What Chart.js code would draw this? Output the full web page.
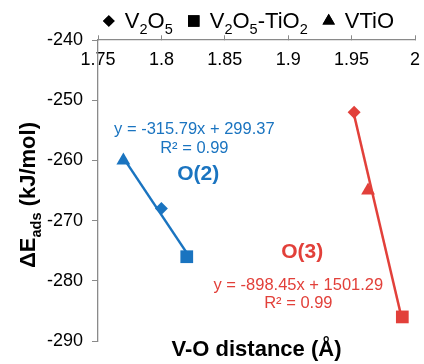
<!DOCTYPE html>
<html>
<head>
<meta charset="utf-8">
<script src="https://cdn.jsdelivr.net/npm/chart.js@4.4.1/dist/chart.umd.min.js"></script>
<style>
  html, body { margin: 0; padding: 0; background: #fff; }
  #wrap { width: 424px; height: 364px; }
</style>
</head>
<body>
<div id="wrap"><canvas id="voChart"></canvas></div>
<script>
// catalysts, in legend order, each with its own marker
const materials = [
  [['V', 0], ['2', 1], ['O', 0], ['5', 1]],
  [['V', 0], ['2', 1], ['O', 0], ['5', 1], ['-TiO', 0], ['2', 1]],
  [['VTiO', 0]]
];
const markerStyles = ['rectRot', 'rect', 'triangle'];
const markerSizes = [6.5, 9, 8];

// O(2) site: V-O distance (Å) and adsorption energy (kJ/mol), same order as materials
const o2Distance = [1.80, 1.82, 1.77];
const o2Energy = [-268, -276, -260];
// O(3) site
const o3Distance = [1.952, 1.99, 1.963];
const o3Energy = [-252, -286, -265];

// linear fits: [slope, intercept]
const o2Fit = [-315.79, 299.37];
const o3Fit = [-898.45, 1501.29];
const o2R2 = '0.99';
const o3R2 = '0.99';

const xTicks = [1.75, 1.8, 1.85, 1.9, 1.95, 2];
const yTicks = [-240, -250, -260, -270, -280, -290];

const BLUE = '#1a74c0';
const RED = '#e2403a';
const AXIS = '#8a8a8a';
const FONT = "'Liberation Sans', Arial, sans-serif";

function points(xs, ys) {
  return xs.map((x, i) => ({ x: x, y: ys[i] }));
}

// end points of a fit line over the range of its data
function fitLine(xs, fit) {
  const lo = Math.min(...xs), hi = Math.max(...xs);
  return [lo, hi].map(x => ({ x: x, y: fit[0] * x + fit[1] }));
}

function fitLabel(fit) {
  const sign = fit[1] < 0 ? '-' : '+';
  return 'y = ' + fit[0].toFixed(2) + 'x ' + sign + ' ' + Math.abs(fit[1]).toFixed(2);
}

// text runs with subscripts: parts = [[text, isSub], ...]
function richWidth(ctx, parts, size, weight) {
  let w = 0;
  parts.forEach(p => {
    ctx.font = weight + ' ' + (p[1] ? size * 0.66 : size) + 'px ' + FONT;
    w += ctx.measureText(p[0]).width;
  });
  return w;
}

function drawRich(ctx, parts, x, y, size, weight) {
  let cx = x;
  ctx.textAlign = 'left';
  ctx.textBaseline = 'alphabetic';
  parts.forEach(p => {
    ctx.font = weight + ' ' + (p[1] ? size * 0.66 : size) + 'px ' + FONT;
    ctx.fillText(p[0], cx, p[1] ? y + size * 0.26 : y);
    cx += ctx.measureText(p[0]).width;
  });
  return cx;
}

// no label overhang padding for the axes; the plot box is set by layout padding
function noPad(s) {
  s.paddingLeft = 0;
  s.paddingRight = 0;
  s.paddingTop = 0;
  s.paddingBottom = 0;
}

const extras = {
  id: 'extras',
  afterDraw(chart) {
    const ctx = chart.ctx;
    const area = chart.chartArea;
    const xs = chart.scales.x, ys = chart.scales.y;
    ctx.save();

    // legend across the top, right-aligned with the plot
    const legSize = 22, legGap = 16, itemGap = 14;
    let total = 0;
    const widths = materials.map(m => richWidth(ctx, m, legSize, 'normal'));
    widths.forEach((w, i) => { total += 7 + legGap + w + (i ? itemGap + 7 : 0); });
    let lx = area.right - total;
    materials.forEach((m, i) => {
      ctx.fillStyle = '#000';
      Chart.helpers.drawPoint(ctx, {
        pointStyle: markerStyles[i], radius: markerSizes[i] * 0.9, rotation: 0, borderWidth: 0
      }, lx, 21);
      ctx.fill();
      ctx.fillStyle = '#000';
      lx = drawRich(ctx, m, lx + legGap, 28, legSize, 'normal') + itemGap + 7;
    });

    // y axis title, rotated
    const yt = [['ΔE', 0], ['ads', 1], [' (kJ/mol)', 0]];
    const ytSize = 22;
    const ytw = richWidth(ctx, yt, ytSize, 'bold');
    ctx.translate(35, 195);
    ctx.rotate(-Math.PI / 2);
    ctx.fillStyle = '#000';
    drawRich(ctx, yt, -ytw / 2, 0, ytSize, 'bold');
    ctx.setTransform(1, 0, 0, 1, 0, 0);

    // fit equations and site labels
    const notes = [
      [fitLabel(o2Fit), 1.826, -254.8, BLUE, 'normal', 16.5],
      ['R² = ' + o2R2, 1.826, -258.0, BLUE, 'normal', 16.5],
      ['O(2)', 1.829, -262.3, BLUE, 'bold', 21],
      ['O(3)', 1.911, -275.2, RED, 'bold', 21],
      [fitLabel(o3Fit), 1.908, -280.7, RED, 'normal', 16.5],
      ['R² = ' + o3R2, 1.908, -283.8, RED, 'normal', 16.5]
    ];
    ctx.textAlign = 'center';
    ctx.textBaseline = 'middle';
    notes.forEach(n => {
      ctx.font = n[4] + ' ' + n[5] + 'px ' + FONT;
      ctx.fillStyle = n[3];
      ctx.fillText(n[0], xs.getPixelForValue(n[1]), ys.getPixelForValue(n[2]));
    });
    ctx.restore();
  }
};

new Chart(document.getElementById('voChart'), {
  type: 'scatter',
  data: {
    datasets: [
      {
        label: 'O(2)',
        data: points(o2Distance, o2Energy),
        pointStyle: markerStyles,
        pointRadius: markerSizes,
        backgroundColor: BLUE,
        borderWidth: 0
      },
      {
        label: 'O(3)',
        data: points(o3Distance, o3Energy),
        pointStyle: markerStyles,
        pointRadius: markerSizes,
        backgroundColor: RED,
        borderWidth: 0
      },
      {
        label: 'O(2) fit',
        data: fitLine(o2Distance, o2Fit),
        showLine: true,
        borderColor: BLUE,
        borderWidth: 2.5,
        pointRadius: 0
      },
      {
        label: 'O(3) fit',
        data: fitLine(o3Distance, o3Fit),
        showLine: true,
        borderColor: RED,
        borderWidth: 2.5,
        pointRadius: 0
      }
    ]
  },
  options: {
    responsive: true,
    maintainAspectRatio: false,
    animation: false,
    clip: false,
    layout: { padding: { top: 40, right: 6, left: 0, bottom: 0 } },
    plugins: {
      legend: { display: false },
      tooltip: { enabled: false }
    },
    scales: {
      x: {
        type: 'linear',
        position: { y: -240 },
        min: 1.75,
        max: 2,
        afterBuildTicks: s => { s.ticks = xTicks.map(v => ({ value: v })); },
        afterFit: noPad,
        ticks: {
          color: '#000',
          font: { family: FONT, size: 18 },
          padding: 14,
          maxRotation: 0,
          callback: v => String(v)
        },
        grid: { drawOnChartArea: false, tickLength: -5, color: AXIS },
        border: { color: AXIS, width: 1.3 }
      },
      xTitle: {
        type: 'linear',
        position: 'bottom',
        min: 1.75,
        max: 2,
        ticks: { display: false },
        grid: { display: false },
        border: { display: false },
        title: {
          display: true,
          text: 'V-O distance (Å)',
          color: '#000',
          font: { family: FONT, size: 22, weight: 'bold' },
          padding: { top: 0, bottom: 1 }
        },
        afterFit: s => { noPad(s); s.height = 23; }
      },
      y: {
        type: 'linear',
        position: 'left',
        min: -290,
        max: -240,
        afterBuildTicks: s => { s.ticks = yTicks.map(v => ({ value: v })); },
        ticks: {
          color: '#000',
          font: { family: FONT, size: 18 },
          padding: 9
        },
        grid: { drawOnChartArea: false, tickLength: 6, color: AXIS },
        border: { color: AXIS, width: 1.3 },
        afterFit: s => { noPad(s); s.width = 98; }
      }
    }
  },
  plugins: [extras]
});
</script>
</body>
</html>
